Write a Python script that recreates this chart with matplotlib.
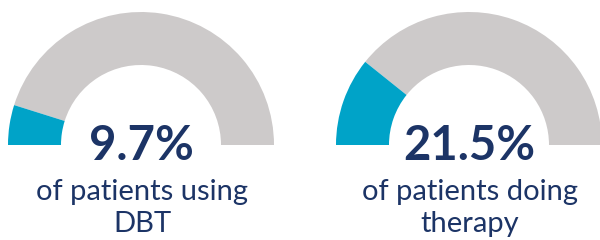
import matplotlib.pyplot as plt
from matplotlib.patches import Wedge

values = [9.7, 21.5]
pct_labels = ["9.7%", "21.5%"]
captions = ["of patients using\nDBT", "of patients doing\ntherapy"]

grey = "#cdcaca"
blue = "#00a3c8"
navy = "#1c3466"

fig = plt.figure(figsize=(6, 2.4), dpi=100)
ax = fig.add_axes([0, 0, 1, 1])
ax.set_xlim(0, 600)
ax.set_ylim(0, 240)
ax.set_aspect("equal")
ax.axis("off")

centers = [141, 469]
cy = 240 - 145
r_out, width = 133, 53

for cx, v, p, cap in zip(centers, values, pct_labels, captions):
    split = 180 - v / 100 * 180
    ax.add_patch(Wedge((cx, cy), r_out, 0, split, width=width, color=grey, lw=0))
    ax.add_patch(Wedge((cx, cy), r_out, split, 180, width=width, color=blue, lw=0))
    ax.text(cx, 240 - 160, p, ha="center", va="baseline", fontsize=34,
            fontweight="bold", color=navy, family="Lato")
    l1, l2 = cap.split("\n")
    ax.text(cx + 1, 240 - 200, l1, ha="center", va="baseline", fontsize=21,
            color=navy, family="Lato")
    ax.text(cx + 1, 240 - 232, l2, ha="center", va="baseline", fontsize=21,
            color=navy, family="Lato")

fig.savefig("out.png", dpi=100)
